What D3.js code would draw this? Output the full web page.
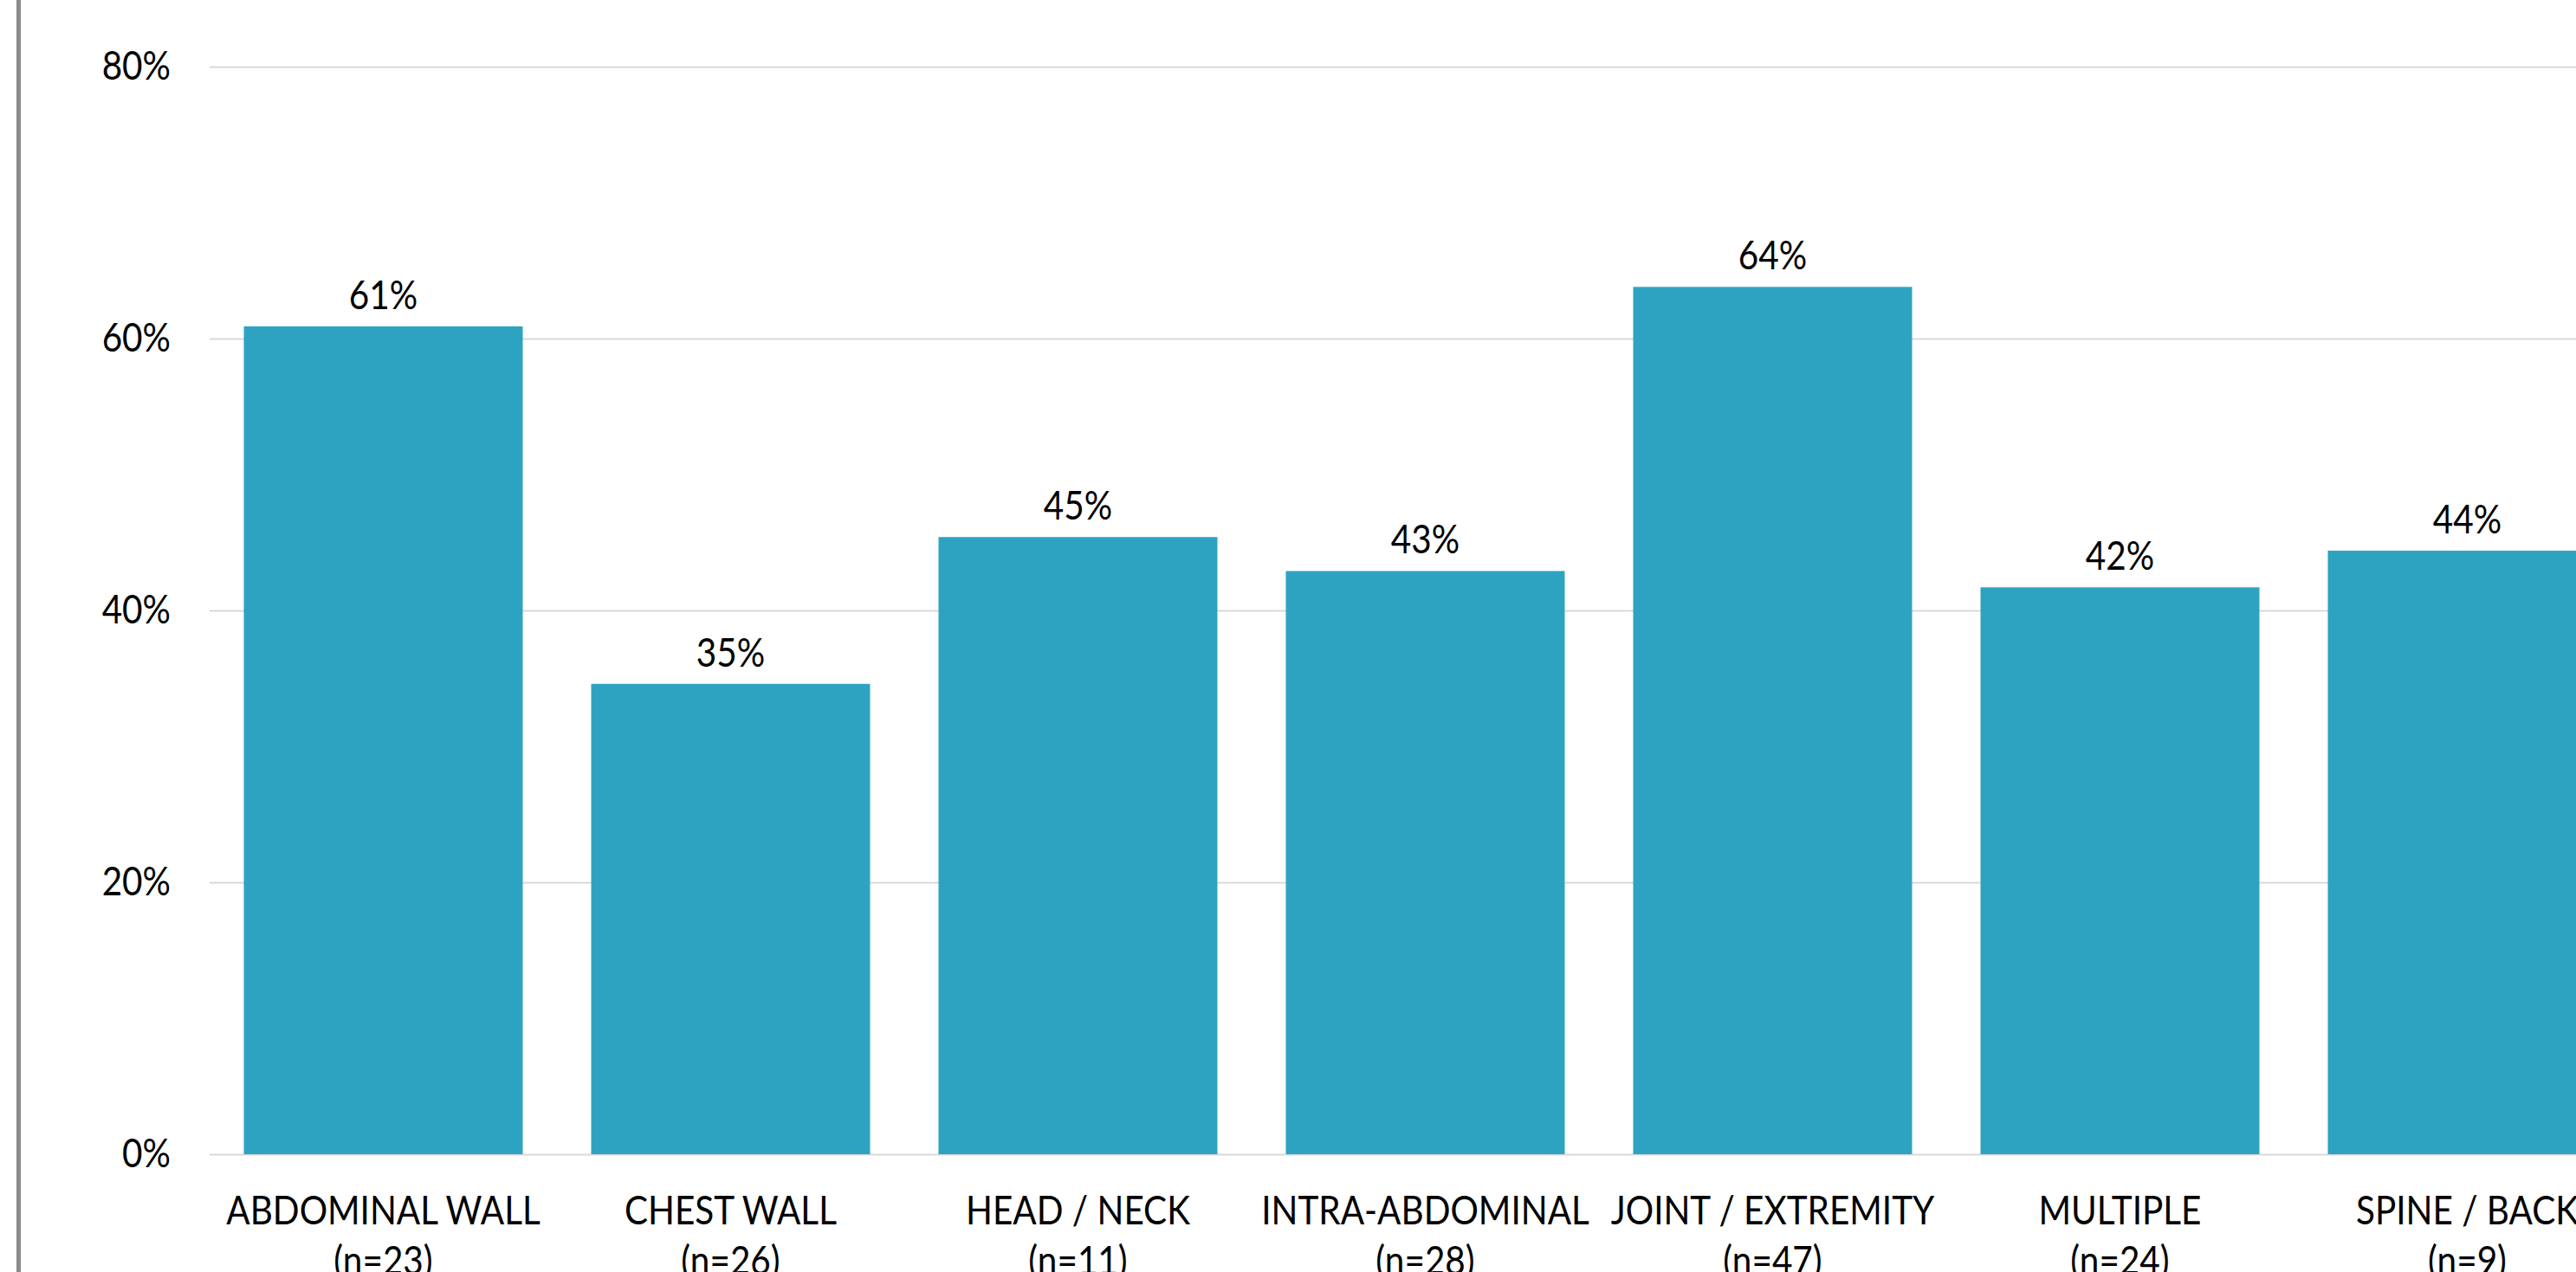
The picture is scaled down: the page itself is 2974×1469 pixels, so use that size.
<!DOCTYPE html>
<html>
<head>
<meta charset="utf-8">
<script src="https://cdn.jsdelivr.net/npm/d3@7"></script>
<style>
  html, body { margin: 0; padding: 0; background: #fff; overflow: hidden; }
  text { font-family: "Lato", sans-serif; fill: #000; }
</style>
</head>
<body>
<svg id="chart"></svg>
<script>
// Chart data
const categories = ["ABDOMINAL WALL", "CHEST WALL", "HEAD / NECK", "INTRA-ABDOMINAL",
                    "JOINT / EXTREMITY", "MULTIPLE", "SPINE / BACK"];
const counts = [23, 26, 11, 28, 47, 24, 9];
const values = [0.609, 0.346, 0.454, 0.429, 0.638, 0.417, 0.444];
const yTicks = [0, 0.2, 0.4, 0.6, 0.8];

const width = 2974, height = 1469;
const barColor = "#2ea3c1";
const fontSize = 46;
const squeeze = 0.88; // narrow the glyphs a bit, source font is a condensed face

const svg = d3.select("#chart").attr("width", width).attr("height", height);

// Plot area (runs past the right edge, as in the source crop)
const plot = { left: 242, top: 77, bottom: 1333, step: 401 };

const x = d3.scaleBand()
    .domain(categories)
    .range([plot.left, plot.left + categories.length * plot.step])
    .paddingInner(0.197)
    .paddingOuter(0.0985);

const y = d3.scaleLinear()
    .domain([0, 0.8])
    .range([plot.bottom, plot.top]);

// Frame line on the left
svg.append("rect")
    .attr("x", 19).attr("y", 0)
    .attr("width", 5).attr("height", height)
    .attr("fill", "#8a8a8a");

// Gridlines + y labels
const yAxis = d3.axisLeft(y)
    .tickValues(yTicks)
    .tickFormat(d3.format(".0%"))
    .tickSize(-(x.range()[1] - plot.left))
    .tickPadding(45);

const yG = svg.append("g")
    .attr("transform", `translate(${plot.left},0)`)
    .call(yAxis);
yG.select(".domain").remove();
yG.selectAll(".tick line").attr("stroke", "#d9d9d9").attr("stroke-width", 2);
yG.selectAll(".tick text")
    .attr("font-size", fontSize)
    .attr("x", -45 / squeeze)
    .attr("transform", `scale(${squeeze},1)`);

// Bars
svg.append("g").selectAll("rect")
    .data(categories)
    .join("rect")
    .attr("x", d => x(d))
    .attr("y", (d, i) => y(values[i]))
    .attr("width", x.bandwidth())
    .attr("height", (d, i) => y(0) - y(values[i]))
    .attr("fill", barColor);

// Value labels
svg.append("g").selectAll("text")
    .data(categories)
    .join("text")
    .attr("transform", (d, i) =>
        `translate(${x(d) + x.bandwidth() / 2},${y(values[i]) - 20}) scale(${squeeze},1)`)
    .attr("text-anchor", "middle")
    .attr("font-size", fontSize)
    .text((d, i) => d3.format(".0%")(values[i]));

// Category labels (two lines)
const catG = svg.append("g").selectAll("text")
    .data(categories)
    .join("text")
    .attr("transform", d => `translate(${x(d) + x.bandwidth() / 2},1414) scale(${squeeze},1)`)
    .attr("text-anchor", "middle")
    .attr("font-size", fontSize);
catG.append("tspan").attr("x", 0).text(d => d);
catG.append("tspan")
    .attr("x", 0)
    .attr("dy", 58)
    .text((d, i) => `(n=${counts[i]})`);
</script>
</body>
</html>
